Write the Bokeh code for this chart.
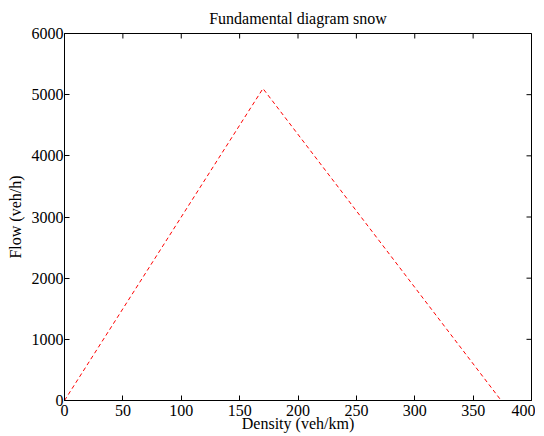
import math
from bokeh.plotting import figure
from bokeh.models import Range1d, FixedTicker
from bokeh.embed import file_html
from bokeh.resources import INLINE

density = [0, 170, 374]
flow = [0, 5100, 0]
x_ticks = [0, 50, 100, 150, 200, 250, 300, 350, 400]
y_ticks = [0, 1000, 2000, 3000, 4000, 5000, 6000]
x_max = 400
y_max = 6000

FONT = "Liberation Serif"

p = figure(frame_width=467, frame_height=367, output_backend="svg", toolbar_location=None,
           x_range=Range1d(0, x_max), y_range=Range1d(0, y_max),
           title="Fundamental diagram snow",
           min_border_left=64, min_border_right=4, min_border_top=33, min_border_bottom=20)
p.title.align = "center"
p.title.text_font = FONT
p.title.text_font_size = "16px"
p.title.text_font_style = "normal"
p.title.text_color = "black"
p.title.standoff = 14
p.outline_line_color = "black"
p.outline_line_alpha = 1
p.xgrid.visible = False
p.ygrid.visible = False
p.background_fill_color = "white"
p.border_fill_color = "white"

p.line(density, flow, line_color="red", line_width=1, line_dash="4 3")

# ticks on the top and right edges (box style)
p.scatter(x=x_ticks, y=[y_max] * len(x_ticks), marker="dash", angle=math.pi / 2,
          size=10, line_color="black", line_width=1)
p.scatter(x=[x_max] * len(y_ticks), y=y_ticks, marker="dash",
          size=10, line_color="black", line_width=1)

for ax, ticks in ((p.xaxis[0], x_ticks), (p.yaxis[0], y_ticks)):
    ax.ticker = FixedTicker(ticks=ticks)
    ax.major_tick_in = 5
    ax.major_tick_out = 0
    ax.minor_tick_line_color = None
    ax.major_label_text_font = FONT
    ax.major_label_text_font_size = "16px"
    ax.major_label_text_color = "black"
    ax.axis_label_text_font = FONT
    ax.axis_label_text_font_size = "16px"
    ax.axis_label_text_font_style = "normal"
    ax.axis_label_text_color = "black"
    ax.axis_line_color = "black"
    ax.major_tick_line_color = "black"

p.xaxis[0].axis_label = "Density (veh/km)"
p.yaxis[0].axis_label = "Flow (veh/h)"
p.xaxis[0].major_label_standoff = 4
p.xaxis[0].axis_label_standoff = -4
p.yaxis[0].major_label_standoff = 1
p.yaxis[0].axis_label_standoff = 5

open("out.html", "w").write(file_html(p, INLINE))
